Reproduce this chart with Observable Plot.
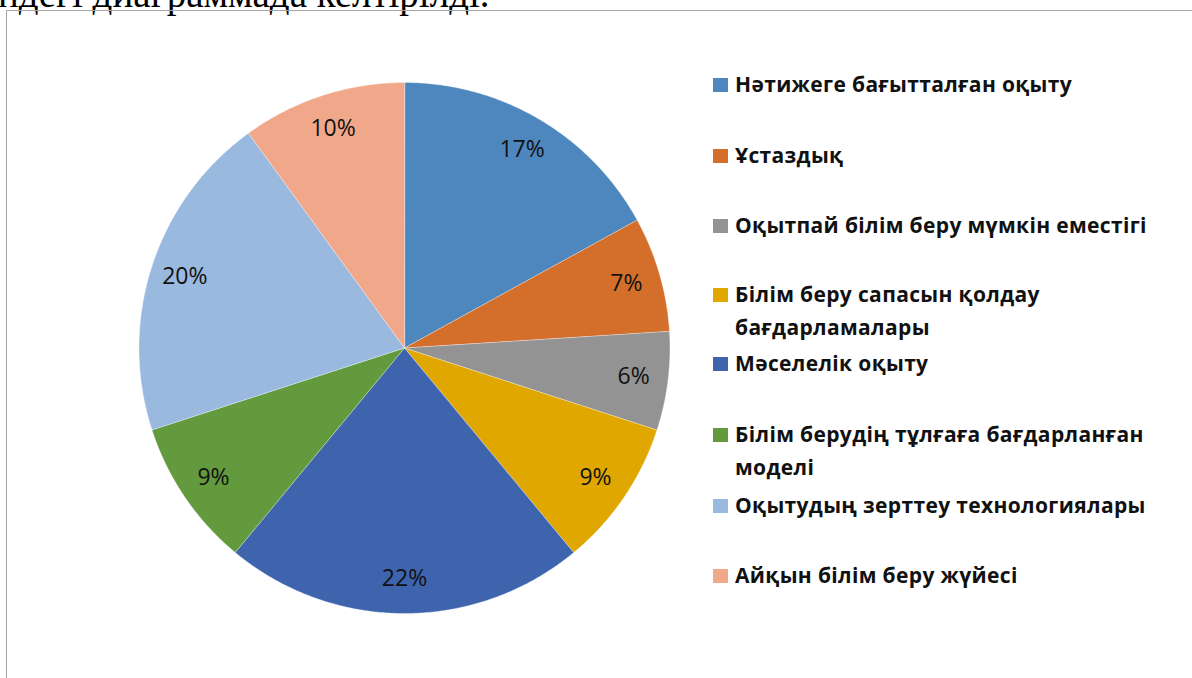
<!DOCTYPE html>
<html><head><meta charset="utf-8">
<script src="https://cdn.jsdelivr.net/npm/d3@7"></script>
<script src="https://cdn.jsdelivr.net/npm/@observablehq/plot@0.6"></script>
<style>
html,body{margin:0;padding:0;background:#fff;}
body{width:1192px;height:678px;overflow:hidden;position:relative;}
#top{position:absolute;left:-2px;top:-26px;font-family:"Liberation Serif",serif;font-size:39px;line-height:1;white-space:nowrap;color:#000;}
#frame{position:absolute;left:6px;top:10px;width:1300px;height:800px;border:1px solid #a6a6a6;box-sizing:border-box;}
#chart{position:absolute;left:0;top:0;}
#legend{position:absolute;left:0;top:0;width:1192px;height:678px;}
.item{position:absolute;left:713px;width:475px;font-family:"Open Sans",sans-serif;font-weight:700;font-size:21px;letter-spacing:0.35px;line-height:33px;color:#111;}
.sw{position:absolute;left:0;top:10px;width:15px;height:14px;}
.lab{margin-left:22px;width:450px;}
</style>
</head><body>
<div id="top">ндегі диаграммада келтірілді.</div>
<div id="frame"></div>
<div id="chart"></div>
<div id="legend"></div>
<script>
const categories = [
  "Нәтижеге бағытталған оқыту",
  "Ұстаздық",
  "Оқытпай білім беру мүмкін еместігі",
  "Білім беру сапасын қолдау бағдарламалары",
  "Мәселелік оқыту",
  "Білім берудің тұлғаға бағдарланған моделі",
  "Оқытудың зерттеу технологиялары",
  "Айқын білім беру жүйесі"
];
const values = [17, 7, 6, 9, 22, 9, 20, 10];
const colors = ["#4E87BE", "#D46E2B", "#939393", "#E0A700", "#3D64AD", "#639A3E", "#99B9DF", "#F1A88A"];

const W = 1192, H = 678, CX = 404, CY = 347.5, R = 265.5;
const total = d3.sum(values);
let acc = 0;
const slices = categories.map((c, i) => {
  const a0 = acc / total * 2 * Math.PI;
  acc += values[i];
  const a1 = acc / total * 2 * Math.PI;
  return {cat: c, value: values[i], a0, a1, mid: (a0 + a1) / 2};
});
// polygon outline for each slice (geometry only)
const pts = [];
for (const s of slices) {
  pts.push({cat: s.cat, x: 0, y: 0});
  const n = Math.max(2, Math.ceil((s.a1 - s.a0) / (Math.PI / 360)));
  for (let k = 0; k <= n; k++) {
    const a = s.a0 + (s.a1 - s.a0) * k / n;
    pts.push({cat: s.cat, x: Math.sin(a), y: Math.cos(a)});
  }
}
const LR = 0.87;
const chart = Plot.plot({
  width: W, height: H,
  marginTop: 0, marginRight: 0, marginBottom: 0, marginLeft: 0,
  x: {domain: [-CX / R, (W - CX) / R], axis: null},
  y: {domain: [-(H - CY) / R, CY / R], axis: null},
  color: {domain: categories, range: colors},
  style: {background: "transparent"},
  marks: [
    Plot.line(pts, {x: "x", y: "y", z: "cat", fill: "cat", stroke: "#ffffff", strokeWidth: 0.6, strokeOpacity: 0.6, curve: "linear-closed"}),
    Plot.text(slices, {
      x: d => LR * Math.sin(d.mid), y: d => LR * Math.cos(d.mid),
      text: d => d.value + "%",
      fontSize: 23, fontFamily: "Open Sans", fill: "#111", textAnchor: "middle", lineAnchor: "middle"
    })
  ]
});
document.getElementById("chart").appendChild(chart);

const tops = [68, 139, 209, 278, 347, 418, 489, 559];
const leg = document.getElementById("legend");
categories.forEach((c, i) => {
  const it = document.createElement("div");
  it.className = "item";
  it.style.top = tops[i] + "px";
  const sw = document.createElement("div");
  sw.className = "sw";
  sw.style.background = colors[i];
  const lab = document.createElement("div");
  lab.className = "lab";
  lab.textContent = c;
  it.appendChild(sw); it.appendChild(lab);
  leg.appendChild(it);
});
</script>
</body></html>
